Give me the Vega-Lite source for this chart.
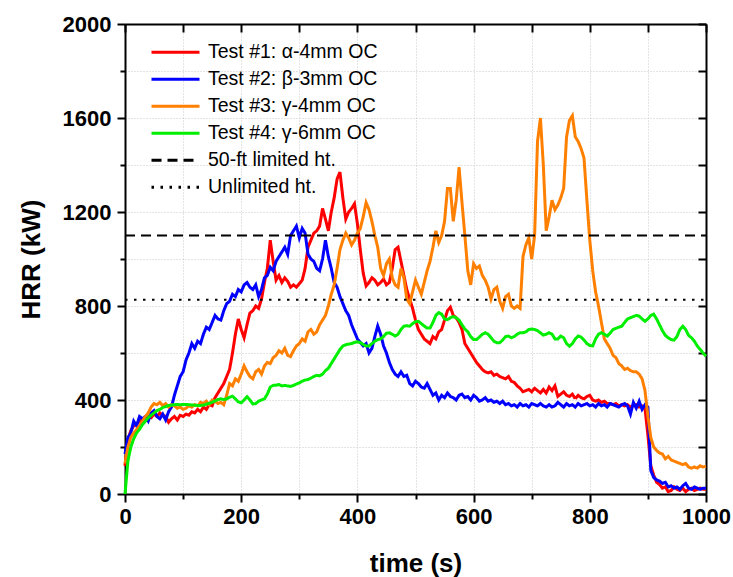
{
"$schema": "https://vega.github.io/schema/vega-lite/v6.json",
"autosize": "none",
"width": 581,
"height": 470,
"padding": {"left": 125, "top": 24, "right": 27, "bottom": 83},
"background": "white",
"config": {
  "view": {"stroke": null},
  "font": "Liberation Sans",
  "axis": {"domainColor": "black", "domainWidth": 2, "tickColor": "black", "tickWidth": 2, "labelColor": "black", "titleColor": "black", "labelFont": "Liberation Sans", "titleFont": "Liberation Sans", "labelFontWeight": "bold", "labelFontSize": 22, "titleFontWeight": "bold", "titleFontSize": 26, "gridColor": "#c8c8c8", "gridDash": [1, 2], "gridWidth": 1, "labelOverlap": false, "labelFlush": false},
  "legend": {"orient": "none", "legendX": 25, "legendY": 15, "symbolType": "stroke", "symbolSize": 2304, "symbolStrokeWidth": 3, "labelFont": "Liberation Sans", "labelFontSize": 19.5, "labelColor": "black", "labelOffset": 7, "padding": 0, "labelLimit": 400, "rowPadding": 0, "clipHeight": 26.6}
},
"layer": [
{
  "data": {"values": [
{"t":0,"T1":120,"T2":170,"T3":130,"T4":0},
{"t":5,"T1":230,"T2":240,"T3":200,"T4":140},
{"t":10,"T1":270,"T2":260,"T3":240,"T4":200},
{"t":15,"T1":290,"T2":310,"T3":260,"T4":235},
{"t":20,"T1":300,"T2":290,"T3":275,"T4":260},
{"t":25,"T1":310,"T2":330,"T3":290,"T4":275},
{"t":30,"T1":320,"T2":320,"T3":310,"T4":295},
{"t":35,"T1":315,"T2":330,"T3":330,"T4":310},
{"t":40,"T1":330,"T2":310,"T3":345,"T4":325},
{"t":45,"T1":325,"T2":345,"T3":370,"T4":335},
{"t":50,"T1":340,"T2":355,"T3":385,"T4":345},
{"t":55,"T1":330,"T2":330,"T3":380,"T4":355},
{"t":60,"T1":345,"T2":320,"T3":390,"T4":360},
{"t":65,"T1":335,"T2":340,"T3":375,"T4":368},
{"t":70,"T1":330,"T2":315,"T3":385,"T4":372},
{"t":75,"T1":305,"T2":350,"T3":370,"T4":377},
{"t":80,"T1":320,"T2":370,"T3":380,"T4":378},
{"t":85,"T1":330,"T2":420,"T3":375,"T4":380},
{"t":90,"T1":315,"T2":460,"T3":365,"T4":381},
{"t":95,"T1":335,"T2":500,"T3":370,"T4":380},
{"t":100,"T1":330,"T2":520,"T3":360,"T4":381},
{"t":105,"T1":340,"T2":570,"T3":365,"T4":381},
{"t":110,"T1":335,"T2":600,"T3":375,"T4":380},
{"t":115,"T1":350,"T2":640,"T3":370,"T4":379},
{"t":120,"T1":345,"T2":620,"T3":380,"T4":378},
{"t":125,"T1":360,"T2":650,"T3":375,"T4":377},
{"t":130,"T1":350,"T2":640,"T3":390,"T4":377},
{"t":135,"T1":370,"T2":680,"T3":385,"T4":378},
{"t":140,"T1":360,"T2":710,"T3":395,"T4":382},
{"t":145,"T1":380,"T2":700,"T3":380,"T4":386},
{"t":150,"T1":375,"T2":730,"T3":400,"T4":390},
{"t":155,"T1":410,"T2":760,"T3":395,"T4":396},
{"t":160,"T1":430,"T2":745,"T3":385,"T4":402},
{"t":165,"T1":450,"T2":740,"T3":390,"T4":405},
{"t":170,"T1":470,"T2":780,"T3":380,"T4":402},
{"t":175,"T1":500,"T2":810,"T3":420,"T4":405},
{"t":180,"T1":530,"T2":820,"T3":470,"T4":412},
{"t":185,"T1":600,"T2":850,"T3":460,"T4":416},
{"t":190,"T1":680,"T2":840,"T3":490,"T4":405},
{"t":195,"T1":745,"T2":870,"T3":480,"T4":392},
{"t":200,"T1":700,"T2":860,"T3":510,"T4":388},
{"t":205,"T1":665,"T2":890,"T3":545,"T4":400},
{"t":210,"T1":720,"T2":900,"T3":520,"T4":414},
{"t":215,"T1":770,"T2":880,"T3":500,"T4":400},
{"t":220,"T1":780,"T2":870,"T3":490,"T4":383},
{"t":225,"T1":800,"T2":890,"T3":520,"T4":385},
{"t":230,"T1":790,"T2":840,"T3":530,"T4":395},
{"t":235,"T1":830,"T2":870,"T3":510,"T4":400},
{"t":240,"T1":900,"T2":920,"T3":545,"T4":405},
{"t":245,"T1":960,"T2":930,"T3":560,"T4":425},
{"t":250,"T1":1080,"T2":965,"T3":555,"T4":455},
{"t":255,"T1":990,"T2":950,"T3":580,"T4":462},
{"t":260,"T1":910,"T2":990,"T3":590,"T4":463},
{"t":265,"T1":930,"T2":1010,"T3":610,"T4":466},
{"t":270,"T1":900,"T2":1030,"T3":600,"T4":460},
{"t":275,"T1":920,"T2":1050,"T3":620,"T4":462},
{"t":280,"T1":905,"T2":1020,"T3":590,"T4":460},
{"t":285,"T1":880,"T2":1100,"T3":585,"T4":458},
{"t":290,"T1":890,"T2":1120,"T3":610,"T4":462},
{"t":295,"T1":880,"T2":1140,"T3":630,"T4":468},
{"t":300,"T1":895,"T2":1090,"T3":640,"T4":473},
{"t":305,"T1":910,"T2":1130,"T3":660,"T4":480},
{"t":310,"T1":960,"T2":1110,"T3":650,"T4":485},
{"t":315,"T1":1050,"T2":1020,"T3":690,"T4":487},
{"t":320,"T1":1080,"T2":1000,"T3":700,"T4":493},
{"t":325,"T1":1110,"T2":990,"T3":680,"T4":500},
{"t":330,"T1":1120,"T2":960,"T3":690,"T4":505},
{"t":335,"T1":1140,"T2":950,"T3":720,"T4":503},
{"t":340,"T1":1215,"T2":1000,"T3":740,"T4":510},
{"t":345,"T1":1170,"T2":1080,"T3":760,"T4":525},
{"t":350,"T1":1120,"T2":1010,"T3":800,"T4":535},
{"t":355,"T1":1200,"T2":960,"T3":850,"T4":555},
{"t":360,"T1":1260,"T2":900,"T3":890,"T4":575},
{"t":365,"T1":1340,"T2":880,"T3":960,"T4":595},
{"t":370,"T1":1370,"T2":840,"T3":1040,"T4":615},
{"t":375,"T1":1260,"T2":810,"T3":1080,"T4":630},
{"t":380,"T1":1170,"T2":780,"T3":1110,"T4":635},
{"t":385,"T1":1200,"T2":760,"T3":1090,"T4":638},
{"t":390,"T1":1215,"T2":720,"T3":1060,"T4":640},
{"t":395,"T1":1235,"T2":690,"T3":1080,"T4":645},
{"t":400,"T1":1150,"T2":660,"T3":1110,"T4":648},
{"t":405,"T1":1040,"T2":645,"T3":1130,"T4":644},
{"t":410,"T1":940,"T2":630,"T3":1180,"T4":636},
{"t":415,"T1":885,"T2":640,"T3":1240,"T4":630},
{"t":420,"T1":900,"T2":600,"T3":1210,"T4":630},
{"t":425,"T1":920,"T2":620,"T3":1160,"T4":640},
{"t":430,"T1":910,"T2":670,"T3":1100,"T4":650},
{"t":435,"T1":890,"T2":715,"T3":1050,"T4":657},
{"t":440,"T1":900,"T2":680,"T3":960,"T4":660},
{"t":445,"T1":915,"T2":630,"T3":930,"T4":670},
{"t":450,"T1":890,"T2":600,"T3":980,"T4":684},
{"t":455,"T1":900,"T2":560,"T3":1000,"T4":686},
{"t":460,"T1":960,"T2":530,"T3":920,"T4":680},
{"t":465,"T1":1040,"T2":510,"T3":890,"T4":672},
{"t":470,"T1":1050,"T2":500,"T3":880,"T4":680},
{"t":475,"T1":990,"T2":520,"T3":960,"T4":700},
{"t":480,"T1":930,"T2":500,"T3":920,"T4":714},
{"t":485,"T1":870,"T2":505,"T3":830,"T4":716},
{"t":490,"T1":830,"T2":470,"T3":810,"T4":714},
{"t":495,"T1":790,"T2":460,"T3":860,"T4":725},
{"t":500,"T1":740,"T2":480,"T3":910,"T4":733},
{"t":505,"T1":700,"T2":470,"T3":880,"T4":735},
{"t":510,"T1":680,"T2":455,"T3":850,"T4":725},
{"t":515,"T1":660,"T2":450,"T3":900,"T4":715},
{"t":520,"T1":650,"T2":470,"T3":950,"T4":706},
{"t":525,"T1":640,"T2":445,"T3":990,"T4":706},
{"t":530,"T1":670,"T2":420,"T3":1050,"T4":730},
{"t":535,"T1":660,"T2":430,"T3":1120,"T4":760},
{"t":540,"T1":690,"T2":400,"T3":1070,"T4":772},
{"t":545,"T1":700,"T2":420,"T3":1100,"T4":765},
{"t":550,"T1":740,"T2":410,"T3":1160,"T4":745},
{"t":555,"T1":780,"T2":430,"T3":1300,"T4":742},
{"t":560,"T1":795,"T2":415,"T3":1300,"T4":750},
{"t":565,"T1":760,"T2":410,"T3":1160,"T4":755},
{"t":570,"T1":750,"T2":400,"T3":1250,"T4":750},
{"t":575,"T1":730,"T2":420,"T3":1390,"T4":740},
{"t":580,"T1":700,"T2":425,"T3":1240,"T4":720},
{"t":585,"T1":640,"T2":410,"T3":1100,"T4":702},
{"t":590,"T1":620,"T2":415,"T3":950,"T4":690},
{"t":595,"T1":600,"T2":400,"T3":890,"T4":670},
{"t":600,"T1":580,"T2":420,"T3":980,"T4":657},
{"t":605,"T1":560,"T2":410,"T3":960,"T4":657},
{"t":610,"T1":545,"T2":395,"T3":970,"T4":668},
{"t":615,"T1":530,"T2":400,"T3":930,"T4":680},
{"t":620,"T1":520,"T2":410,"T3":910,"T4":686},
{"t":625,"T1":515,"T2":395,"T3":880,"T4":680},
{"t":630,"T1":520,"T2":400,"T3":830,"T4":665},
{"t":635,"T1":505,"T2":390,"T3":870,"T4":650},
{"t":640,"T1":510,"T2":395,"T3":880,"T4":644},
{"t":645,"T1":500,"T2":385,"T3":820,"T4":644},
{"t":650,"T1":495,"T2":395,"T3":790,"T4":655},
{"t":655,"T1":490,"T2":380,"T3":840,"T4":670},
{"t":660,"T1":500,"T2":385,"T3":850,"T4":672},
{"t":665,"T1":480,"T2":375,"T3":800,"T4":665},
{"t":670,"T1":475,"T2":380,"T3":790,"T4":670},
{"t":675,"T1":460,"T2":370,"T3":800,"T4":680},
{"t":680,"T1":450,"T2":385,"T3":790,"T4":686},
{"t":685,"T1":435,"T2":375,"T3":1010,"T4":686},
{"t":690,"T1":440,"T2":380,"T3":1060,"T4":690},
{"t":695,"T1":445,"T2":370,"T3":1090,"T4":700},
{"t":700,"T1":435,"T2":385,"T3":1000,"T4":702},
{"t":705,"T1":450,"T2":380,"T3":1100,"T4":700},
{"t":710,"T1":440,"T2":375,"T3":1500,"T4":695},
{"t":715,"T1":430,"T2":385,"T3":1600,"T4":686},
{"t":720,"T1":445,"T2":375,"T3":1400,"T4":676},
{"t":725,"T1":430,"T2":370,"T3":1120,"T4":680},
{"t":730,"T1":455,"T2":380,"T3":1180,"T4":686},
{"t":735,"T1":440,"T2":370,"T3":1250,"T4":680},
{"t":740,"T1":460,"T2":375,"T3":1210,"T4":660},
{"t":745,"T1":415,"T2":390,"T3":1230,"T4":660},
{"t":750,"T1":425,"T2":380,"T3":1260,"T4":672},
{"t":755,"T1":435,"T2":370,"T3":1300,"T4":665},
{"t":760,"T1":420,"T2":385,"T3":1520,"T4":640},
{"t":765,"T1":415,"T2":375,"T3":1590,"T4":629},
{"t":770,"T1":425,"T2":380,"T3":1610,"T4":640},
{"t":775,"T1":405,"T2":370,"T3":1520,"T4":660},
{"t":780,"T1":420,"T2":385,"T3":1500,"T4":672},
{"t":785,"T1":410,"T2":375,"T3":1470,"T4":668},
{"t":790,"T1":405,"T2":380,"T3":1430,"T4":655},
{"t":795,"T1":415,"T2":385,"T3":1250,"T4":640},
{"t":800,"T1":420,"T2":375,"T3":1080,"T4":632},
{"t":805,"T1":400,"T2":380,"T3":950,"T4":630},
{"t":810,"T1":395,"T2":370,"T3":860,"T4":660},
{"t":815,"T1":400,"T2":385,"T3":800,"T4":680},
{"t":820,"T1":390,"T2":375,"T3":730,"T4":686},
{"t":825,"T1":395,"T2":380,"T3":660,"T4":680},
{"t":830,"T1":385,"T2":370,"T3":640,"T4":672},
{"t":835,"T1":385,"T2":385,"T3":620,"T4":685},
{"t":840,"T1":380,"T2":380,"T3":590,"T4":700},
{"t":845,"T1":385,"T2":375,"T3":580,"T4":705},
{"t":850,"T1":375,"T2":370,"T3":555,"T4":710},
{"t":855,"T1":380,"T2":380,"T3":545,"T4":714},
{"t":860,"T1":375,"T2":385,"T3":530,"T4":730},
{"t":865,"T1":380,"T2":375,"T3":535,"T4":745},
{"t":870,"T1":370,"T2":340,"T3":525,"T4":750},
{"t":875,"T1":375,"T2":390,"T3":520,"T4":755},
{"t":880,"T1":380,"T2":365,"T3":520,"T4":760},
{"t":885,"T1":370,"T2":395,"T3":510,"T4":757},
{"t":890,"T1":375,"T2":360,"T3":490,"T4":745},
{"t":895,"T1":365,"T2":380,"T3":440,"T4":735},
{"t":900,"T1":250,"T2":370,"T3":330,"T4":745},
{"t":905,"T1":120,"T2":100,"T3":240,"T4":760},
{"t":910,"T1":80,"T2":70,"T3":200,"T4":765},
{"t":915,"T1":50,"T2":60,"T3":185,"T4":745},
{"t":920,"T1":40,"T2":55,"T3":175,"T4":720},
{"t":925,"T1":25,"T2":45,"T3":170,"T4":695},
{"t":930,"T1":30,"T2":50,"T3":150,"T4":675},
{"t":935,"T1":10,"T2":30,"T3":160,"T4":665},
{"t":940,"T1":15,"T2":35,"T3":145,"T4":657},
{"t":945,"T1":30,"T2":25,"T3":140,"T4":655},
{"t":950,"T1":20,"T2":30,"T3":135,"T4":670},
{"t":955,"T1":15,"T2":20,"T3":130,"T4":700},
{"t":960,"T1":25,"T2":35,"T3":125,"T4":714},
{"t":965,"T1":10,"T2":45,"T3":130,"T4":700},
{"t":970,"T1":20,"T2":25,"T3":115,"T4":675},
{"t":975,"T1":25,"T2":20,"T3":110,"T4":665},
{"t":980,"T1":15,"T2":30,"T3":115,"T4":650},
{"t":985,"T1":20,"T2":25,"T3":110,"T4":630},
{"t":990,"T1":25,"T2":20,"T3":120,"T4":615},
{"t":995,"T1":20,"T2":25,"T3":115,"T4":600},
{"t":1000,"T1":20,"T2":25,"T3":118,"T4":586}
  ]},
  "transform": [{"fold": ["T1", "T2", "T3", "T4"], "as": ["series", "v"]}],
  "mark": {"type": "line", "strokeWidth": 3},
  "encoding": {
    "x": {"field": "t", "type": "quantitative", "scale": {"domain": [0, 1000], "nice": false},
      "axis": {"orient": "bottom", "values": [0,100,200,300,400,500,600,700,800,900,1000], "format": "d", "labelExpr": "datum.value % 200 === 0 ? datum.label : ''", "tickSize": {"condition": {"test": "datum.value % 200 === 0", "value": 8}, "value": 5}, "grid": true, "labelPadding": 4, "title": "time (s)", "titlePadding": 23}},
    "y": {"field": "v", "type": "quantitative", "scale": {"domain": [0, 2000], "nice": false},
      "axis": {"orient": "left", "values": [0,200,400,600,800,1000,1200,1400,1600,1800,2000], "format": "d", "labelExpr": "datum.value % 400 === 0 ? datum.label : ''", "tickSize": {"condition": {"test": "datum.value % 400 === 0", "value": 8}, "value": 5}, "grid": true, "labelPadding": 6, "title": "HRR (kW)", "titlePadding": 18}},
    "color": {"field": "series", "type": "nominal",
      "scale": {"domain": ["T1", "T2", "T3", "T4", "L50", "LU"], "range": ["#ff0000", "#0000ff", "#ff8000", "#00ee00", "#000000", "#000000"]},
      "legend": {"title": null, "labelExpr": "datum.label == 'T1' ? 'Test #1: α-4mm OC' : datum.label == 'T2' ? 'Test #2: β-3mm OC' : datum.label == 'T3' ? 'Test #3: γ-4mm OC' : datum.label == 'T4' ? 'Test #4: γ-6mm OC' : datum.label == 'L50' ? '50-ft limited ht.' : 'Unlimited ht.'"}},
    "strokeDash": {"field": "series", "type": "nominal",
      "scale": {"domain": ["T1", "T2", "T3", "T4", "L50", "LU"], "range": [[1, 0], [1, 0], [1, 0], [1, 0], [10, 6], [2.5, 6.5]]},
      "legend": {"title": null, "labelExpr": "datum.label == 'T1' ? 'Test #1: α-4mm OC' : datum.label == 'T2' ? 'Test #2: β-3mm OC' : datum.label == 'T3' ? 'Test #3: γ-4mm OC' : datum.label == 'T4' ? 'Test #4: γ-6mm OC' : datum.label == 'L50' ? '50-ft limited ht.' : 'Unlimited ht.'"}}
  }
},
{
  "data": {"values": [
    {"t": 0, "v": 1100, "series": "L50"},
    {"t": 1000, "v": 1100, "series": "L50"},
    {"t": 0, "v": 827, "series": "LU"},
    {"t": 1000, "v": 827, "series": "LU"}
  ]},
  "mark": {"type": "line", "strokeWidth": 2},
  "encoding": {
    "x": {"field": "t", "type": "quantitative", "scale": {"domain": [0, 1000], "nice": false},
      "axis": {"orient": "top", "values": [0,100,200,300,400,500,600,700,800,900,1000], "labels": false, "tickSize": -8, "grid": false, "title": null}},
    "y": {"field": "v", "type": "quantitative", "scale": {"domain": [0, 2000], "nice": false},
      "axis": {"orient": "right", "values": [0,200,400,600,800,1000,1200,1400,1600,1800,2000], "labels": false, "tickSize": -8, "grid": false, "title": null}},
    "color": {"field": "series", "type": "nominal",
      "scale": {"domain": ["T1", "T2", "T3", "T4", "L50", "LU"], "range": ["#ff0000", "#0000ff", "#ff8000", "#00ee00", "#000000", "#000000"]},
      "legend": {"title": null, "labelExpr": "datum.label == 'T1' ? 'Test #1: α-4mm OC' : datum.label == 'T2' ? 'Test #2: β-3mm OC' : datum.label == 'T3' ? 'Test #3: γ-4mm OC' : datum.label == 'T4' ? 'Test #4: γ-6mm OC' : datum.label == 'L50' ? '50-ft limited ht.' : 'Unlimited ht.'"}},
    "strokeDash": {"field": "series", "type": "nominal",
      "scale": {"domain": ["T1", "T2", "T3", "T4", "L50", "LU"], "range": [[1, 0], [1, 0], [1, 0], [1, 0], [10, 6], [2.5, 6.5]]},
      "legend": {"title": null, "labelExpr": "datum.label == 'T1' ? 'Test #1: α-4mm OC' : datum.label == 'T2' ? 'Test #2: β-3mm OC' : datum.label == 'T3' ? 'Test #3: γ-4mm OC' : datum.label == 'T4' ? 'Test #4: γ-6mm OC' : datum.label == 'L50' ? '50-ft limited ht.' : 'Unlimited ht.'"}}
  }
}
],
"resolve": {"axis": {"x": "independent", "y": "independent"}}
}
